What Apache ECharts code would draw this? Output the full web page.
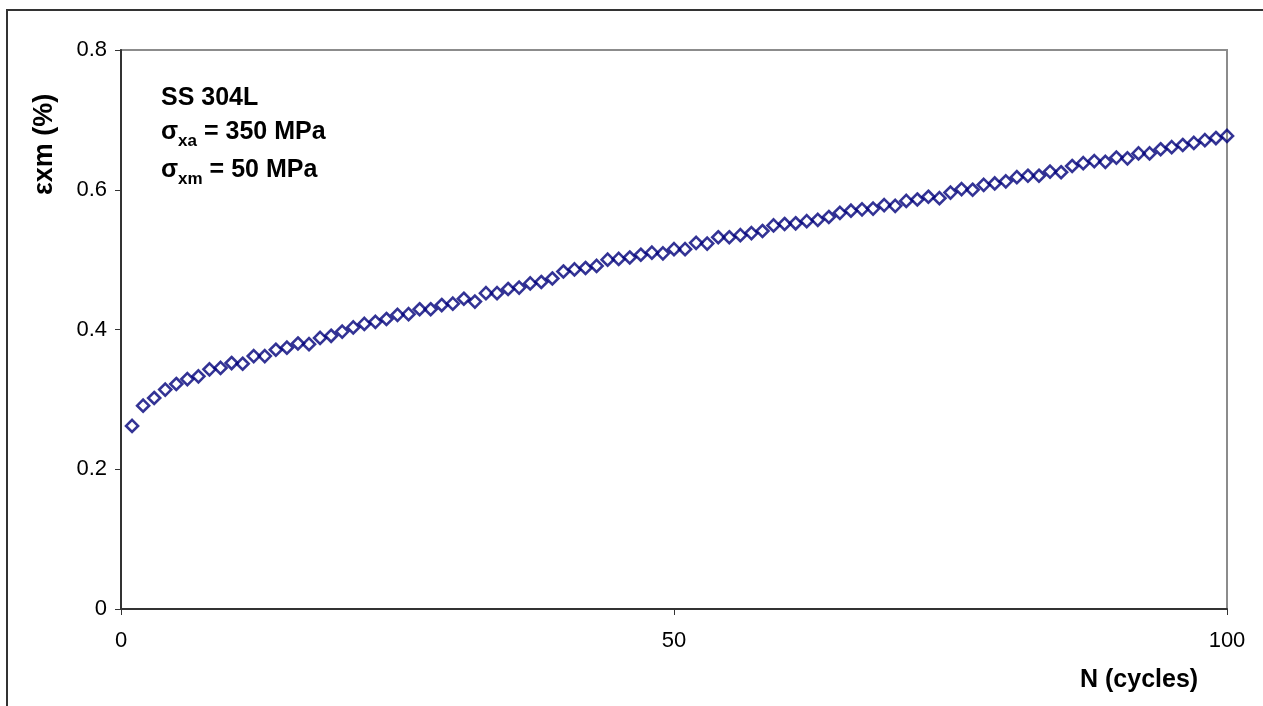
<!DOCTYPE html>
<html>
<head>
<meta charset="utf-8">
<script src="https://cdn.jsdelivr.net/npm/echarts@6/dist/echarts.min.js"></script>
<style>
  html, body { margin: 0; padding: 0; background: #fff; }
  #chart { width: 1263px; height: 706px; }
</style>
</head>
<body>
<div id="chart"></div>
<script>
// Cycle numbers N = 1..100
const cycles = [
  1, 2, 3, 4, 5, 6, 7, 8, 9, 10,
  11, 12, 13, 14, 15, 16, 17, 18, 19, 20,
  21, 22, 23, 24, 25, 26, 27, 28, 29, 30,
  31, 32, 33, 34, 35, 36, 37, 38, 39, 40,
  41, 42, 43, 44, 45, 46, 47, 48, 49, 50,
  51, 52, 53, 54, 55, 56, 57, 58, 59, 60,
  61, 62, 63, 64, 65, 66, 67, 68, 69, 70,
  71, 72, 73, 74, 75, 76, 77, 78, 79, 80,
  81, 82, 83, 84, 85, 86, 87, 88, 89, 90,
  91, 92, 93, 94, 95, 96, 97, 98, 99, 100
];

// Mean axial strain εxm (%) per cycle
const strainXm = [
  0.262, 0.291, 0.302, 0.314, 0.322, 0.329, 0.333, 0.343, 0.345, 0.352,
  0.351, 0.362, 0.362, 0.371, 0.374, 0.380, 0.379, 0.388, 0.391, 0.397,
  0.403, 0.408, 0.411, 0.415, 0.421, 0.422, 0.429, 0.429, 0.435, 0.437,
  0.444, 0.440, 0.452, 0.452, 0.458, 0.460, 0.466, 0.468, 0.473, 0.483,
  0.486, 0.488, 0.491, 0.500, 0.501, 0.503, 0.507, 0.510, 0.509, 0.515,
  0.515, 0.524, 0.523, 0.532, 0.532, 0.535, 0.538, 0.541, 0.549, 0.551,
  0.552, 0.555, 0.557, 0.561, 0.567, 0.570, 0.572, 0.573, 0.578, 0.577,
  0.584, 0.586, 0.590, 0.588, 0.596, 0.601, 0.600, 0.607, 0.609, 0.612,
  0.618, 0.620, 0.620, 0.626, 0.625, 0.634, 0.638, 0.641, 0.640, 0.646,
  0.645, 0.652, 0.652, 0.658, 0.661, 0.664, 0.667, 0.671, 0.674, 0.677
];

const xTicks = [0, 50, 100];
const yTicks = [0, 0.2, 0.4, 0.6, 0.8];

const points = cycles.map((n, i) => [n, strainXm[i]]);

const font = '"Liberation Sans", Arial, sans-serif';
const chart = echarts.init(document.getElementById('chart'), null, { renderer: 'canvas' });

const richAnn = {
  s: { font: 'bold 25px ' + font, fill: '#000', verticalAlign: 'bottom' },
  sub: { font: 'bold 17px ' + font, fill: '#000', verticalAlign: 'bottom', padding: [0, 0, -5, 0] }
};

chart.setOption({
  backgroundColor: '#ffffff',
  animation: false,
  grid: {
    left: 121, right: 36, top: 50, bottom: 97,
    show: true, borderColor: '#8c8c8c', borderWidth: 2, backgroundColor: 'transparent'
  },
  xAxis: {
    type: 'value',
    min: xTicks[0], max: xTicks[xTicks.length - 1], interval: 50,
    axisLine: { show: true, onZero: false, lineStyle: { color: '#333', width: 2 } },
    axisTick: { show: true, inside: false, length: 6, lineStyle: { color: '#333', width: 1 } },
    axisLabel: { show: true, color: '#000', fontFamily: font, fontSize: 22, margin: 21 },
    splitLine: { show: false }
  },
  yAxis: {
    type: 'value',
    min: yTicks[0], max: yTicks[yTicks.length - 1], interval: 0.2,
    axisLine: { show: true, onZero: false, lineStyle: { color: '#333', width: 2 } },
    axisTick: { show: true, inside: false, length: 6, lineStyle: { color: '#333', width: 1 } },
    axisLabel: {
      show: true, color: '#000', fontFamily: font, fontSize: 22, margin: 14,
      formatter: v => (v === 0 ? '0' : String(Math.round(v * 10) / 10))
    },
    splitLine: { show: false }
  },
  series: [{
    type: 'scatter',
    data: points,
    symbol: 'diamond',
    symbolSize: 12,
    itemStyle: { color: 'rgba(0,0,0,0)', borderColor: '#00007a', borderWidth: 2.6 }
  }],
  graphic: [
    {
      type: 'rect', silent: true, z: 0,
      shape: { x: 7, y: 10, width: 1320, height: 800 },
      style: { fill: 'none', stroke: '#333', lineWidth: 2 }
    },
    {
      // y-axis title, reading bottom-to-top
      type: 'text', x: 31, y: 195, rotation: Math.PI / 2,
      style: { text: 'εxm (%)', font: 'bold 27px ' + font, fill: '#000' }
    },
    {
      type: 'text', left: 1080, top: 668,
      style: { text: 'N (cycles)', font: 'bold 25px ' + font, fill: '#000' }
    },
    {
      type: 'text', left: 161, top: 86,
      style: { text: 'SS 304L', font: 'bold 25px ' + font, fill: '#000' }
    },
    {
      type: 'text', left: 161, top: 120,
      style: { text: '{s|σ}{sub|xa}{s| = 350 MPa}', rich: richAnn }
    },
    {
      type: 'text', left: 161, top: 158,
      style: { text: '{s|σ}{sub|xm}{s| = 50 MPa}', rich: richAnn }
    }
  ]
});
</script>
</body>
</html>
